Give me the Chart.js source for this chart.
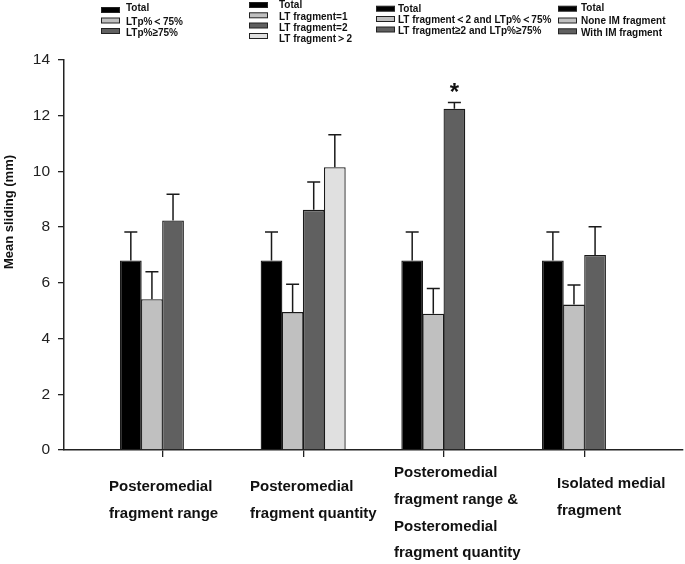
<!DOCTYPE html>
<html>
<head>
<meta charset="utf-8">
<script src="https://cdn.jsdelivr.net/npm/chart.js"></script>
<style>
  body { margin: 0; background: #fff; }
  #wrap { width: 685px; height: 564px; position: relative; }
</style>
</head>
<body>
<div id="wrap">
  <canvas id="myChart" width="685" height="564"></canvas>
</div>

<script>
  // x position of each group on the axis (one group per category)
  const groupPos = [1, 2, 3, 4];
  const groupLabels = [
    ['Posteromedial', 'fragment range'],
    ['Posteromedial', 'fragment quantity'],
    ['Posteromedial', 'fragment range &', 'Posteromedial', 'fragment quantity'],
    ['Isolated medial', 'fragment'],
  ];

  // means and upper error (SD) for each bar slot, null where a group has no bar
  const totalMean = [6.8, 6.8, 6.8, 6.8];
  const totalSD = [1.03, 1.03, 1.03, 1.03];
  const lowMean = [5.41, 4.95, 4.89, 5.22];
  const lowSD = [0.99, 1.0, 0.91, 0.7];
  const highMean = [8.24, 8.62, 12.25, 7.0];
  const highSD = [0.94, 1.0, 0.22, 1.01];
  const extraMean = [null, 10.15, null, null];
  const extraSD = [null, 1.17, null, null];

  // significance mark: slot index, group index
  const sigMarks = [{ slot: 2, group: 2, text: '*' }];

  const yTicks = [0, 2, 4, 6, 8, 10, 12, 14];
  const yTitle = 'Mean sliding (mm)';

  const legendLabels = [
    ['Total', 'LTp%\uFF1C75%', 'LTp%\u226575%'],
    ['Total', 'LT fragment=1', 'LT fragment=2', 'LT fragment\uFF1E2'],
    ['Total', 'LT fragment\uFF1C2 and LTp%\uFF1C75%', 'LT fragment\u22652 and LTp%\u226575%'],
    ['Total', 'None IM fragment', 'With IM fragment'],
  ];

  const colors = ['#000000', '#c0c0c0', '#606060', '#e0e0e0'];

  function toPoints(means, sds) {
    const pts = [];
    groupPos.forEach(function (x, i) {
      if (means[i] !== null) pts.push({ x: x, y: means[i], sd: sds[i] });
    });
    return pts;
  }

  const seriesMeans = [totalMean, lowMean, highMean, extraMean];
  const seriesSDs = [totalSD, lowSD, highSD, extraSD];

  const data = {
    datasets: seriesMeans.map(function (m, k) {
      return {
        data: toPoints(m, seriesSDs[k]),
        backgroundColor: colors[k],
        borderColor: '#1a1a1a',
        borderWidth: 1.3,
        categoryPercentage: 0.6,
        barPercentage: 1.03,
      };
    }),
  };

  // layout of the hand-drawn parts
  const legendLayout = [
    { sx: 101, tx: 126, sy: [10, 20.5, 31], ty: [8, 21.5, 33] },
    { sx: 249, tx: 279, sy: [5, 15.3, 25.5, 36], ty: [5, 16.5, 27.5, 39] },
    { sx: 376, tx: 398, sy: [8.7, 19, 29.5], ty: [9, 19.5, 31] },
    { sx: 558, tx: 581, sy: [8.7, 20.5, 31.3], ty: [8, 21.3, 32.5] },
  ];
  const labelLayout = [
    { x: 109, y: 487 },
    { x: 250, y: 487 },
    { x: 394, y: 473 },
    { x: 557, y: 484 },
  ];

  const extras = {
    id: 'extras',
    afterDatasetsDraw(chart) {
      const ctx = chart.ctx;
      const y = chart.scales.y;
      ctx.save();
      ctx.strokeStyle = '#1a1a1a';
      ctx.lineWidth = 1.5;
      chart.data.datasets.forEach(function (ds, i) {
        const meta = chart.getDatasetMeta(i);
        meta.data.forEach(function (bar, j) {
          const p = ds.data[j];
          if (p.sd == null) return;
          const top = y.getPixelForValue(p.y + p.sd);
          ctx.beginPath();
          ctx.moveTo(bar.x, bar.y);
          ctx.lineTo(bar.x, top);
          ctx.moveTo(bar.x - 6.5, top);
          ctx.lineTo(bar.x + 6.5, top);
          ctx.stroke();
        });
      });
      // significance marks
      ctx.fillStyle = '#111';
      ctx.font = 'bold 24px "Liberation Sans", Arial, sans-serif';
      ctx.textAlign = 'center';
      ctx.textBaseline = 'alphabetic';
      sigMarks.forEach(function (m) {
        const ds = chart.data.datasets[m.slot];
        const meta = chart.getDatasetMeta(m.slot);
        const idx = ds.data.findIndex(function (p) { return p.x === groupPos[m.group]; });
        const bar = meta.data[idx];
        const p = ds.data[idx];
        const top = y.getPixelForValue(p.y + p.sd);
        ctx.fillText(m.text, bar.x, top - 3);
      });
      ctx.restore();
    },
    afterDraw(chart) {
      const ctx = chart.ctx;
      ctx.save();
      // legends
      legendLabels.forEach(function (labels, b) {
        const L = legendLayout[b];
        labels.forEach(function (txt, r) {
          ctx.fillStyle = colors[r];
          ctx.strokeStyle = '#222';
          ctx.lineWidth = 1;
          ctx.fillRect(L.sx, L.sy[r] - 2.5, 19, 5);
          ctx.strokeRect(L.sx + 0.5, L.sy[r] - 2.5, 18, 5);
          ctx.save();
          ctx.translate(L.tx, L.ty[r]);
          ctx.scale(0.87, 1);
          ctx.fillStyle = '#111';
          ctx.font = 'bold 11.5px "Liberation Sans", Arial, sans-serif';
          ctx.textAlign = 'left';
          ctx.textBaseline = 'middle';
          ctx.fillText(txt, 0, 0);
          ctx.restore();
        });
      });
      // category labels
      ctx.fillStyle = '#111';
      ctx.font = 'bold 15px "Liberation Sans", Arial, sans-serif';
      ctx.textAlign = 'left';
      ctx.textBaseline = 'middle';
      groupLabels.forEach(function (lines, g) {
        lines.forEach(function (line, k) {
          ctx.fillText(line, labelLayout[g].x, labelLayout[g].y + k * 26.7);
        });
      });
      // y title
      ctx.translate(9, 212);
      ctx.rotate(-Math.PI / 2);
      ctx.font = 'bold 13px "Liberation Sans", Arial, sans-serif';
      ctx.textAlign = 'center';
      ctx.fillText(yTitle, 0, 0);
      ctx.restore();
    },
  };

  Chart.defaults.font.family = '"Liberation Sans", Arial, sans-serif';

  const config = {
    type: 'bar',
    data: data,
    options: {
      responsive: false,
      animation: false,
      layout: { padding: { top: 60, right: 2, left: 0, bottom: 0 } },
      plugins: {
        legend: { display: false },
        tooltip: { enabled: false },
      },
      scales: {
        x: {
          type: 'linear',
          min: 0.3,
          max: 4.7,
          offset: false,
          afterBuildTicks(s) {
            s.ticks = groupPos.map(function (v) { return { value: v }; });
          },
          afterFit(s) { s.height = 114; },
          ticks: { display: false },
          grid: {
            offset: false,
            drawOnChartArea: false,
            drawTicks: true,
            tickLength: 7,
            color: '#222',
            lineWidth: 1.3,
          },
          border: { color: '#222', width: 1.5 },
        },
        y: {
          min: 0,
          max: 14,
          afterBuildTicks(s) {
            s.ticks = yTicks.map(function (v) { return { value: v }; });
          },
          afterFit(s) { s.width = 64; },
          ticks: {
            font: { size: 15.5 },
            color: '#222',
            padding: 8,
          },
          grid: {
            drawOnChartArea: false,
            drawTicks: true,
            tickLength: 6,
            color: '#222',
            lineWidth: 1.3,
          },
          border: { color: '#222', width: 1.5 },
        },
      },
    },
    plugins: [extras],
  };

  var myChart = new Chart(document.getElementById('myChart'), config);
</script>
</body>
</html>
